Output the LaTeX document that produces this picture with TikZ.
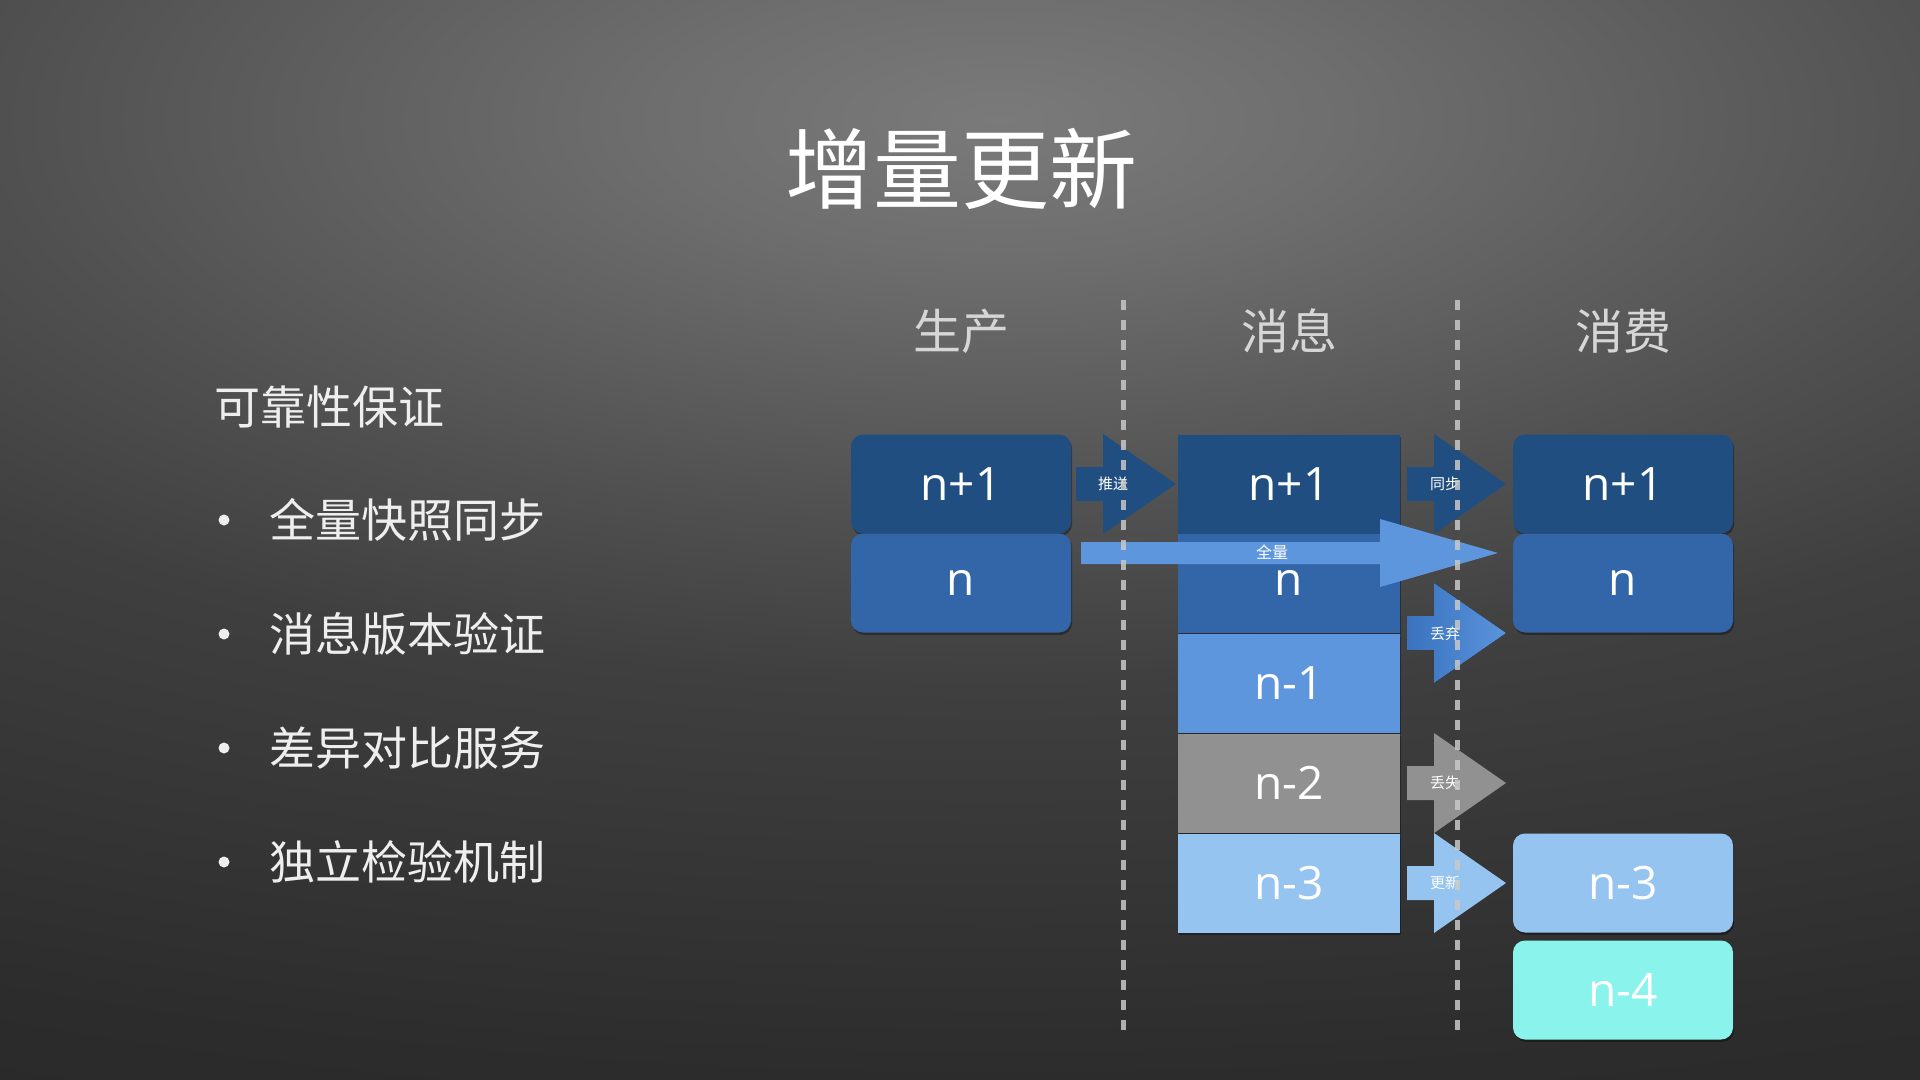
\documentclass[tikz,border=0pt]{standalone}
\usepackage{fontspec}
\setmainfont{Open Sans}
\newfontfamily\cjk{Noto Sans CJK SC}
\usetikzlibrary{shadows}
\definecolor{cDark}{HTML}{214E80}
\definecolor{cMid}{HTML}{3266A8}
\definecolor{cLight}{HTML}{5E96DE}
\definecolor{cGray}{HTML}{919191}
\definecolor{cPale}{HTML}{96C4F0}
\definecolor{cCyan}{HTML}{8AF4EC}
\definecolor{cDropA}{HTML}{3A72BE}
\definecolor{cDropB}{HTML}{5A94DC}
\definecolor{bgA}{HTML}{7A7A7A}
\definecolor{bgB}{HTML}{6E6E6E}
\definecolor{bgC}{HTML}{505050}
\definecolor{bgD}{HTML}{3F3F3F}
\definecolor{bgE}{HTML}{2C2C2C}
\definecolor{bgF}{HTML}{2A2A2A}
\definecolor{txtc}{HTML}{EEEEEE}
\definecolor{hdrc}{HTML}{D6D6D6}
\definecolor{divc}{HTML}{C8C8C8}
\pgfdeclareradialshading{bgshade}{\pgfpoint{0bp}{0bp}}{color(0bp)=(bgA); color(3.3bp)=(bgB); color(9.5bp)=(bgC); color(13.5bp)=(bgD); color(22.9bp)=(bgE); color(25bp)=(bgF); color(50bp)=(bgF)}
\newcommand\blockarr[7]{%
  \fill[#7] (#1,#4-#5) -- (#2,#4-#5) -- (#2,#4-#6) -- (#3,#4) -- (#2,#4+#6) -- (#2,#4+#5) -- (#1,#4+#5) -- cycle;}
\begin{document}
\begin{tikzpicture}[x=0.5pt,y=-0.5pt,
  boxbase/.style={minimum width=110pt, minimum height=49.5pt, inner sep=0pt, text=white,
    font=\fontsize{23}{26}\selectfont,
    drop shadow={shadow xshift=0.6pt, shadow yshift=-1.2pt, opacity=0.35, fill=black}},
  rbox/.style={boxbase, rounded corners=6pt},
  sbox/.style={boxbase, minimum width=111pt},
  albl/.style={text=white, font=\cjk\fontsize{7.5}{9}\selectfont, inner sep=0pt},
  hdr/.style={text=hdrc, font=\cjk\fontsize{24}{28}\selectfont},
  item/.style={text=txtc, font=\cjk\fontsize{23}{27}\selectfont, anchor=west, inner sep=0pt},
  bullet/.style={circle, fill=txtc, minimum size=5.5pt, inner sep=0pt},
  divider/.style={draw=divc, line width=2.5pt, dash pattern=on 5pt off 5pt, opacity=0.85}
]
\useasboundingbox (0,0) rectangle (1920,1080);
\fill[bgF] (0,0) rectangle (1920,1080);
\begin{scope}
  \clip (0,0) rectangle (1920,1080);
  \begin{scope}[transform canvas={xscale=2.5}]
    \shade[shading=bgshade, overlay] (400,120) circle [radius=1050];
  \end{scope}
\end{scope}

% title
\node[text=white, font=\cjk\fontsize{44}{50}\selectfont] (title) at (961,169) {增量更新};

% left text
\node[item] (rel) at (214,407) {可靠性保证};
\node[bullet] (b1) at (224,520) {};
\node[item] (t1) at (269,520) {全量快照同步};
\node[bullet] (b2) at (224,634) {};
\node[item] (t2) at (269,634) {消息版本验证};
\node[bullet] (b3) at (224,748) {};
\node[item] (t3) at (269,748) {差异对比服务};
\node[bullet] (b4) at (224,862) {};
\node[item] (t4) at (269,862) {独立检验机制};

% headers
\node[hdr] (hp) at (961,331) {生产};
\node[hdr] (hm) at (1289,331) {消息};
\node[hdr] (hc) at (1623,331) {消费};

% producer column
\node[rbox, fill=cDark] (p1) at (961,484) {n+1};
\node[rbox, fill=cMid] (p0) at (961,583) {n};

% message column
\node[sbox, fill=cDark] (m1) at (1289,484) {n+1};
\node[sbox, fill=cMid] (m0) at (1289,583) {n};
\node[sbox, fill=cLight] (m2) at (1289,683) {n-1};
\node[sbox, fill=cGray] (m3) at (1289,783) {n-2};
\node[sbox, fill=cPale] (m4) at (1289,883) {n-3};

% consumer column
\node[rbox, fill=cDark] (c1) at (1623,484) {n+1};
\node[rbox, fill=cMid] (c0) at (1623,583) {n};
\node[rbox, fill=cPale] (c3) at (1623,883) {n-3};
\node[rbox, fill=cCyan] (c4) at (1623,990) {n-4};

% block arrows
\blockarr{1076}{1103}{1176}{484}{17}{50}{cDark}
\node[albl] (a1) at (1113,484) {推送};
\blockarr{1407}{1434}{1506}{484}{17}{50}{cDark}
\node[albl] (a2) at (1445,484) {同步};
\blockarr{1407}{1434}{1506}{633}{17}{50}{left color=cDropA, right color=cDropB}
\node[albl] (a3) at (1445,634) {丢弃};
\blockarr{1407}{1434}{1506}{783}{17}{50}{cGray}
\node[albl] (a4) at (1445,783) {丢失};
\blockarr{1407}{1434}{1506}{883}{17}{50}{cPale}
\node[albl] (a5) at (1445,883) {更新};
\blockarr{1081}{1380}{1498}{553}{11}{34}{cLight}
\node[albl, font=\cjk\fontsize{8}{9}\selectfont] (a6) at (1272,552) {全量};

% dividers
\coordinate (d1t) at (1123,300);
\coordinate (d1b) at (1123,1030);
\coordinate (d2t) at (1457,300);
\coordinate (d2b) at (1457,1030);
\draw[divider] (d1t) -- (d1b);
\draw[divider] (d2t) -- (d2b);
\end{tikzpicture}
\end{document}
